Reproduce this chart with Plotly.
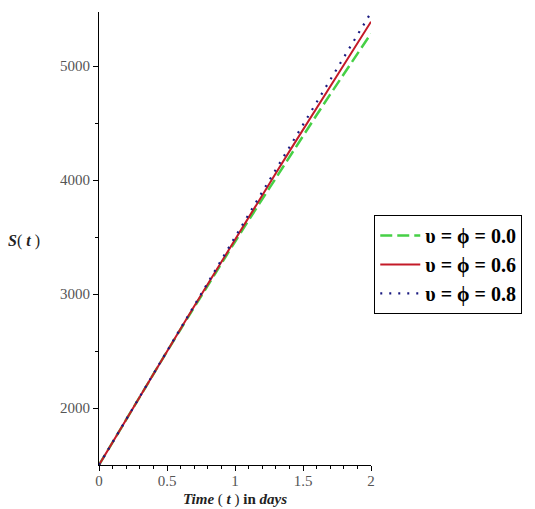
import plotly.graph_objects as go

t = [0.0, 0.1, 0.2, 0.3, 0.4, 0.5, 0.6, 0.7, 0.8, 0.9, 1.0,
     1.1, 1.2, 1.3, 1.4, 1.5, 1.6, 1.7, 1.8, 1.9, 2.0]

s_00 = [1500, 1701, 1901, 2101, 2300, 2496, 2691, 2885, 3077, 3269, 3459,
        3647, 3834, 4020, 4205, 4388, 4571, 4752, 4931, 5109, 5286]
s_06 = [1500, 1701, 1901, 2101, 2300, 2498, 2696, 2893, 3089, 3285, 3480,
        3674, 3867, 4060, 4252, 4443, 4634, 4824, 5013, 5202, 5390]
s_08 = [1500, 1701, 1901, 2101, 2300, 2500, 2701, 2901, 3100, 3300, 3499,
        3698, 3896, 4094, 4292, 4489, 4686, 4883, 5079, 5275, 5470]

names = ["υ = ϕ = 0.0", "υ = ϕ = 0.6", "υ = ϕ = 0.8"]

x_ticks = [0, 0.5, 1, 1.5, 2]
x_tick_text = ["0", "0.5", "1", "1.5", "2"]
y_ticks = [2000, 3000, 4000, 5000]
y_tick_text = ["2000", "3000", "4000", "5000"]

FONT = "Liberation Serif, Times New Roman, serif"

fig = go.Figure()
fig.add_trace(go.Scatter(x=t, y=s_00, mode="lines", name=names[0],
                         line=dict(color="#46d046", width=2.5, dash="12px,5px")))
fig.add_trace(go.Scatter(x=t, y=s_06, mode="lines", name=names[1],
                         line=dict(color="#c41a28", width=2)))
fig.add_trace(go.Scatter(x=t, y=s_08, mode="lines", name=names[2],
                         line=dict(color="#1a1a80", width=2.2, dash="2px,7px")))

fig.update_layout(
    width=527, height=501,
    margin=dict(l=91, r=164, t=4, b=44),
    paper_bgcolor="white", plot_bgcolor="white",
    font=dict(family=FONT, size=15, color="#444"),
    showlegend=True,
    legend=dict(
        x=1.012, y=0.552, xanchor="left", yanchor="top",
        bordercolor="black", borderwidth=1, bgcolor="white",
        font=dict(family=FONT, size=20, color="black", weight="bold"),
        tracegroupgap=0, itemwidth=40,
    ),
    xaxis=dict(
        range=[0, 2], tickvals=x_ticks, ticktext=x_tick_text,
        showgrid=False, zeroline=False, showline=True, linecolor="black", linewidth=1,
        ticks="outside", ticklen=5, tickcolor="black", tickwidth=1,
        ticklabelstandoff=-3,
        minor=dict(dtick=0.1, ticks="outside", ticklen=3, tickcolor="black", tickwidth=1),
        tickfont=dict(family=FONT, size=15, color="#555"),
    ),
    yaxis=dict(
        range=[1500, 5475], tickvals=y_ticks, ticktext=y_tick_text,
        showgrid=False, zeroline=False, showline=True, linecolor="black", linewidth=1,
        ticks="outside", ticklen=5, tickcolor="black", tickwidth=1,
        minor=dict(tickvals=[2500, 3500, 4500], ticks="outside", ticklen=3,
                   tickcolor="black", tickwidth=1),
        tickfont=dict(family=FONT, size=15, color="#555"),
    ),
    annotations=[
        dict(text="<b><i>Time</i></b> ( <b><i>t</i></b> ) <b>in</b> <b><i>days</i></b>",
             xref="paper", yref="paper", x=0.5, y=-0.077, xanchor="center", yanchor="middle",
             showarrow=False, font=dict(family=FONT, size=15, color="#222")),
        dict(text="<b><i>S</i></b>( <b><i>t</i></b> )",
             xref="paper", yref="paper", x=-0.276, y=0.494, xanchor="center", yanchor="middle",
             showarrow=False, font=dict(family=FONT, size=16, color="#222")),
    ],
)

fig.write_html("out.html")
